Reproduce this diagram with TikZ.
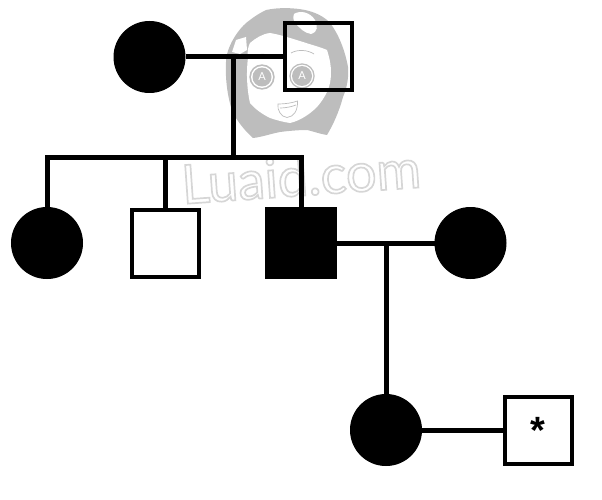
\documentclass[tikz,border=0pt]{standalone}
\usepackage{fontspec}
\setmainfont{Liberation Sans}
\newfontfamily\wmthin{Lato}
\definecolor{wmgray}{HTML}{BDBDBD}
\definecolor{wmline}{HTML}{D2D2D2}
\tikzset{
  x=1pt,y=-1pt,
  female/.style={circle,fill=black,draw=black,minimum size=71pt,inner sep=0pt,line width=1pt},
  malefilled/.style={rectangle,fill=black,draw=black,minimum size=71pt,inner sep=0pt,line width=1pt},
  maleopen/.style={rectangle,draw=black,line width=4pt,minimum size=67pt,inner sep=0pt},
  link/.style={draw=black,line width=5pt},
  wmstroke/.style={draw=wmgray,line width=.7pt,fill=none},
}
\begin{document}
\begin{tikzpicture}
\useasboundingbox (0,0) rectangle (602,500);
% watermark
\fill[wmgray] (226,62) .. controls (226,48) and (238,28) .. (250,20)
  .. controls (255,16) and (260,13) .. (266,10)
  .. controls (280,7) and (295,8) .. (305,10)
  .. controls (315,12) and (325,17) .. (330,23)
  .. controls (338,33) and (345,50) .. (348,67)
  .. controls (349,80) and (346,90) .. (343,97)
  .. controls (339,112) and (333,125) .. (327,135)
  .. controls (320,134) and (312,131) .. (307,130)
  .. controls (298,130) and (288,131) .. (280,132)
  .. controls (270,134) and (262,137) .. (253,138)
  .. controls (245,131) and (238,122) .. (233,113)
  .. controls (228,100) and (225,80) .. (226,62) -- cycle;
\fill[white] (248,58) .. controls (247,52) and (248,47) .. (250,43)
  .. controls (256,38) and (262,34) .. (270,33)
  .. controls (282,35) and (293,39) .. (303,42)
  .. controls (312,45) and (320,47) .. (327,50)
  .. controls (331,62) and (332,73) .. (330,83)
  .. controls (328,92) and (323,100) .. (317,107)
  .. controls (309,115) and (299,121) .. (290,123)
  .. controls (283,122) and (276,120) .. (270,118)
  .. controls (262,114) and (255,109) .. (250,103)
  .. controls (247,90) and (246,72) .. (248,58) -- cycle;
\fill[white] (294,14) .. controls (300,10) and (310,12) .. (315,20)
  .. controls (318,26) and (318,32) .. (311,34)
  .. controls (304,33) and (300,28) .. (296,24)
  .. controls (293,21) and (293,17) .. (294,14) -- cycle;
\fill[white] (236,40) -- (246,37) -- (247,50) -- (240,54) -- (232,52) -- cycle;
\draw[wmstroke] (254,56) .. controls (260,53) and (270,54) .. (276,58);
\draw[wmstroke] (291,53) .. controls (298,49) and (308,50) .. (314,54);
\fill[wmgray] (262,77) circle (12.7pt);
\fill[white] (262,77) circle (11pt);
\fill[wmgray] (262,77) circle (9.5pt);
\fill[wmgray] (302,76) circle (12.7pt);
\fill[white] (302,76) circle (11.3pt);
\fill[wmgray] (302,76) circle (10pt);
\node[text=white,font=\wmthin\fontsize{11}{11}\selectfont,inner sep=0pt] (eyea) at (262,77) {A};
\node[text=white,font=\wmthin\fontsize{11}{11}\selectfont,inner sep=0pt] (eyeb) at (302,76) {A};
\draw[wmstroke] (278,104) .. controls (285,104) and (292,103) .. (297.5,101)
  .. controls (298,110) and (294,117) .. (287,117.5)
  .. controls (281,117) and (277,110) .. (278,104) -- cycle;
\draw[wmstroke] (280,108) .. controls (285,108) and (291,107) .. (296,105);
\node[text=wmline,font=\wmthin\fontsize{54}{54}\selectfont,inner sep=0pt,rotate=4,anchor=center] (wma) at (301,176) {\special{pdf:code q 1 Tr 1.7 w 0.84 G}Luaid.com\special{pdf:code 0 Tr Q}};
% people
\node[female] (gm) at (149.5,57) {};
\node[maleopen] (gf) at (318,57) {};
\node[female] (c1) at (47,243) {};
\node[maleopen] (c2) at (165.5,243) {};
\node[malefilled] (c3) at (301,243) {};
\node[female] (sp) at (470.5,243) {};
\node[female] (gc) at (386,430) {};
\node[maleopen] (gs) at (538,430) {\fontsize{38}{38}\selectfont\bfseries\raisebox{-9pt}{*}};
% union and sibling bar points
\coordinate (u1) at (233.5,57);
\coordinate (bar) at (233.5,157);
\coordinate (b1) at (47,157);
\coordinate (b2) at (165.5,157);
\coordinate (b3) at (301,157);
\coordinate (u2) at (386,243);
% connectors
\draw[link] (gm) -- (gf);
\draw[link] (u1) -- (bar);
\draw[link,line cap=rect] (b1) -- (b3);
\draw[link] (b1) -- (c1);
\draw[link] (b2) -- (c2);
\draw[link] (b3) -- (c3);
\draw[link] (c3) -- (sp);
\draw[link] (u2) -- (gc);
\draw[link] (gc) -- (gs);
\end{tikzpicture}
\end{document}
